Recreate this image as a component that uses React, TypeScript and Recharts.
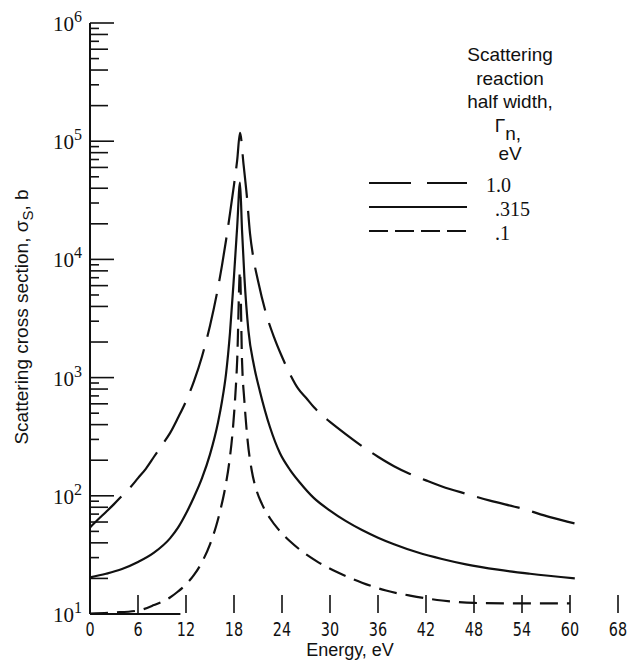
import React from "react";
import { LineChart, Line, XAxis, YAxis, ReferenceLine } from "recharts";

// energy (eV) and scattering cross section (b) for each half width
const wideEnergy = [0, 1, 2, 3, 4, 5, 6, 7, 8, 9, 10, 11, 12, 13, 14, 15, 16, 16.5, 17, 17.5, 18, 18.4, 18.75, 19.2, 19.6, 20, 20.4, 21, 22, 23, 24, 25, 26, 27, 28, 29, 30, 32, 34, 36, 38, 40, 42, 44, 47, 50, 54, 57.5, 61];
const wideSigma = [54, 63, 73, 85, 100, 117, 141, 170, 214, 269, 339, 457, 631, 933, 1510, 2750, 5750, 8900, 14450, 24500, 42700, 69200, 117500, 63000, 34700, 16600, 10500, 6600, 3500, 2200, 1500, 1070, 810, 675, 560, 480, 422, 331, 263, 214, 178, 153, 135, 120, 104, 91, 78, 66, 57.5];

const midEnergy = [0, 2, 4, 6, 8, 10, 11, 12, 13, 14, 15, 16, 16.5, 17, 17.5, 18, 18.4, 18.75, 19.0, 19.3, 19.8, 20.5, 21.25, 22.5, 23.75, 25, 26.25, 28, 30, 32, 34, 36, 38, 41, 44, 47, 51, 55, 60.6];
const midSigma = [20.4, 21.9, 24, 27.5, 33, 43.6, 53.7, 70.8, 97.7, 141, 224, 417, 631, 1070, 2400, 7240, 19000, 44700, 17800, 7080, 2510, 1260, 760, 380, 229, 166, 129, 95.5, 75, 61, 51.3, 44.2, 38.9, 33.1, 29.2, 26.3, 23.7, 21.9, 20];

const narrowEnergy = [0, 3, 6, 8, 10, 11, 12, 13, 14, 15, 15.75, 16.4, 16.9, 17.4, 17.8, 18.1, 18.4, 18.75, 19.0, 19.3, 19.7, 20.2, 20.8, 21.5, 22.5, 23.5, 25, 26.5, 28.5, 31, 34, 37, 40, 44, 48, 54, 60];
const narrowSigma = [10.1, 10.3, 10.7, 11.9, 13.8, 15.5, 17.8, 21.4, 27.5, 38.9, 55, 81, 117, 190, 331, 603, 1410, 7940, 1410, 631, 295, 166, 112, 85, 64.6, 52.5, 41.2, 33.9, 27.5, 22.4, 18.4, 15.8, 14.3, 13, 12.4, 12.3, 12.3];

const xTicks = [0, 6, 12, 18, 24, 30, 36, 42, 48, 54, 60, 66];
const xTickLabels = ["0", "6", "12", "18", "24", "30", "36", "42", "48", "54", "60", "68"];
const yDecades = [10, 100, 1000, 10000, 100000, 1000000];
const yMinorSteps = [2, 3, 4, 5, 6, 7, 8, 9];
const yTicks = [...yDecades, ...yDecades.slice(0, -1).flatMap((d) => yMinorSteps.map((m) => d * m))].sort((a, b) => a - b);

const widths = ["1.0", ".315", ".1"];

const toPoints = (e: number[], s: number[]) => e.map((x, i) => ({ energy: x, sigma: s[i] }));

const SERIES = [
  { name: widths[0], data: toPoints(wideEnergy, wideSigma), dash: "44 13", legendDash: "42 16" },
  { name: widths[1], data: toPoints(midEnergy, midSigma), dash: undefined, legendDash: undefined },
  { name: widths[2], data: toPoints(narrowEnergy, narrowSigma), dash: "18 9", legendDash: "19 7" },
];

const SANS = "'Liberation Sans', Arial, sans-serif";
const NARROW = "'Liberation Sans Narrow', 'DejaVu Sans Condensed', sans-serif";
const SERIF = "'Liberation Serif', 'DejaVu Serif', serif";
const INK = "#111";

const W = 620;
const H = 653;

function XTick({ x, y, payload }: any) {
  const label = xTickLabels[xTicks.indexOf(payload.value)];
  return (
    <g>
      <line x1={x} x2={x} y1={y - 19} y2={y - 1} stroke={INK} strokeWidth={1.6} />
      <text transform={`translate(${x},${y + 22}) scale(1,1.22)`} textAnchor="middle" fontFamily={NARROW} fontSize={16} fill={INK}>
        {label}
      </text>
    </g>
  );
}

function YTick({ x, y, payload }: any) {
  const v = payload.value;
  const exp = Math.round(Math.log10(v));
  const isMajor = yDecades.includes(v);
  const mant = Math.round(v / Math.pow(10, Math.floor(Math.log10(v) + 1e-9)));
  const len = isMajor ? 24 : mant % 2 === 0 ? 18 : 9;
  return (
    <g>
      <line x1={x} x2={x + len} y1={y} y2={y} stroke={INK} strokeWidth={1.6} />
      {isMajor && (
        <text x={x - 8} y={y + 8} textAnchor="end" fontFamily={SERIF} fontSize={21} fill={INK}>
          10
          <tspan dy={-9} fontSize={16}>
            {exp}
          </tspan>
        </text>
      )}
    </g>
  );
}

function Overlay() {
  return (
    <svg width={W} height={H} style={{ position: "absolute", left: 8, top: 8, pointerEvents: "none" }}>
      <text transform="translate(20,309) rotate(-90)" textAnchor="middle" fontFamily={SANS} fontSize={19} fill={INK}>
        Scattering cross section, σ
        <tspan dy={5} fontSize={15}>S</tspan>
        <tspan dy={-5}>, b</tspan>
      </text>
      <text x={342} y={648} textAnchor="middle" fontFamily={SANS} fontSize={18} fill={INK}>
        Energy, eV
      </text>
      <g fontFamily={SANS} fontSize={19} fill={INK} textAnchor="middle">
        <text x={502} y={53}>Scattering</text>
        <text x={502} y={77}>reaction</text>
        <text x={502} y={100}>half width,</text>
        <text x={500} y={124}>
          Γ<tspan dy={8}>n,</tspan>
        </text>
        <text x={502} y={152}>eV</text>
      </g>
      {SERIES.map((s, i) => (
        <g key={s.name}>
          <line x1={361} x2={459} y1={175 + i * 24} y2={175 + i * 24} stroke={INK} strokeWidth={2.2} strokeDasharray={s.legendDash} />
          <text x={s.name.startsWith(".") ? 487 : 478} y={184 + i * 24} fontFamily={SERIF} fontSize={20} fill={INK}>
            {s.name}
          </text>
        </g>
      ))}
    </svg>
  );
}

export default function App() {
  return (
    <div style={{ position: "relative", width: 628, height: 661, background: "#fff", overflow: "hidden" }}>
      <style>{"body { margin: 0; }"}</style>
      <div style={{ position: "absolute", left: 8, top: 8, width: W, height: H }}>
        <LineChart width={W} height={H} margin={{ top: 15, right: 10, left: 0, bottom: 0 }}>
          <XAxis
            dataKey="energy"
            type="number"
            domain={[0, 66]}
            ticks={xTicks}
            interval={0}
            axisLine={false}
            tickLine={false}
            tickSize={0}
            tickMargin={0}
            height={47}
            tick={(p: any) => <XTick {...p} />}
          />
          <YAxis
            dataKey="sigma"
            type="number"
            scale="log"
            domain={[10, 1000000]}
            ticks={yTicks}
            interval={0}
            allowDataOverflow
            axisLine={{ stroke: INK, strokeWidth: 2 }}
            tickLine={false}
            tickSize={0}
            tickMargin={0}
            width={82}
            tick={(p: any) => <YTick {...p} />}
          />
          <ReferenceLine
            segment={[
              { x: 0, y: 10 },
              { x: 11.3, y: 10 },
            ]}
            stroke={INK}
            strokeWidth={2}
            ifOverflow="visible"
          />
          {SERIES.map((s) => (
            <Line
              key={s.name}
              data={s.data}
              dataKey="sigma"
              name={s.name}
              type="monotone"
              stroke={INK}
              strokeWidth={2.2}
              strokeDasharray={s.dash}
              dot={false}
              activeDot={false}
              isAnimationActive={false}
            />
          ))}
        </LineChart>
      </div>
      <Overlay />
    </div>
  );
}
